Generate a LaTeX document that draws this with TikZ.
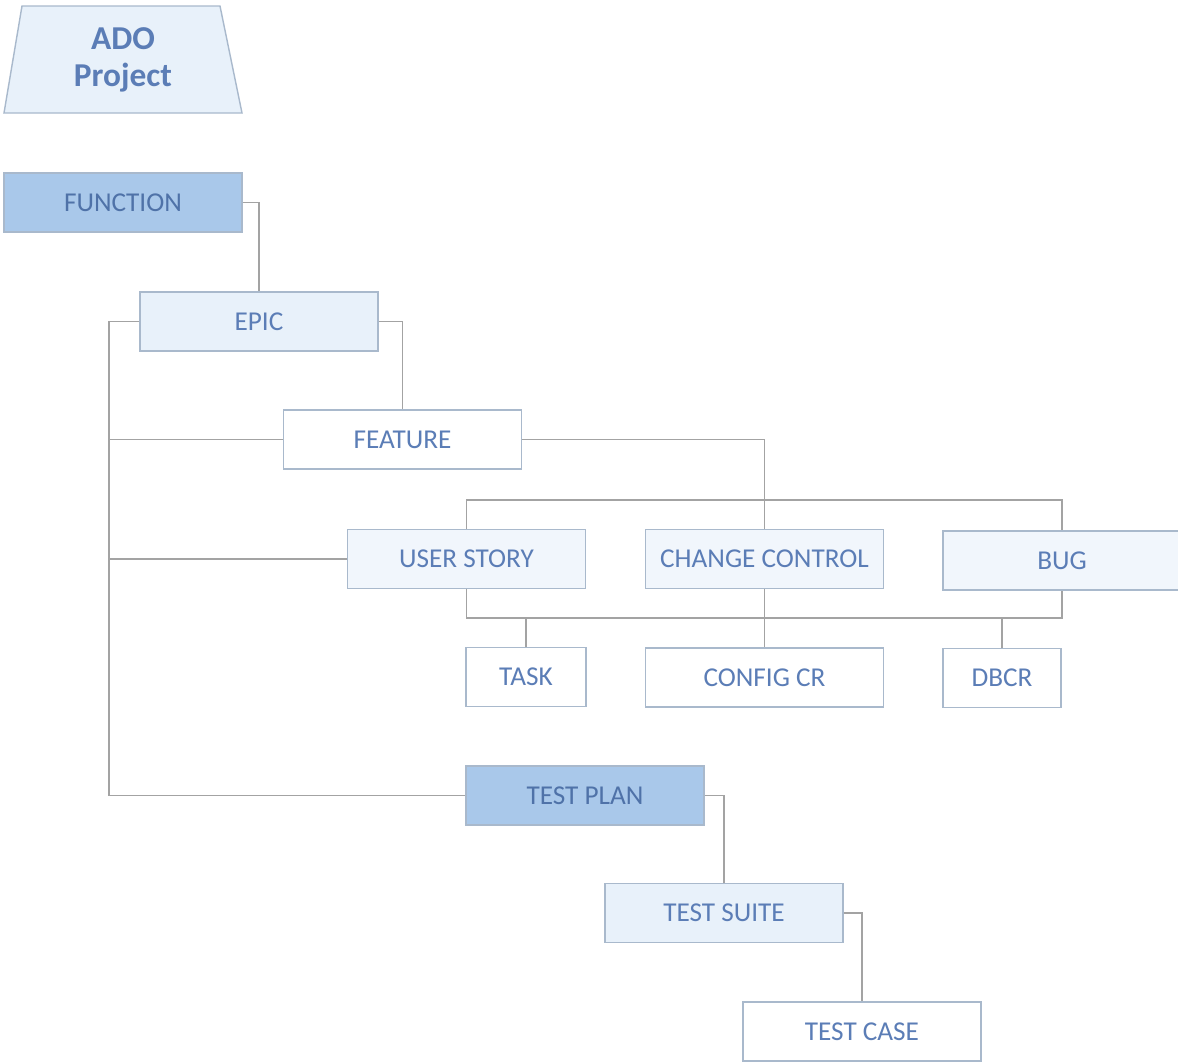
\documentclass[tikz,border=0pt]{standalone}
\usepackage{fontspec}
\setmainfont{Carlito}
\definecolor{txt}{HTML}{5B7DB6}
\definecolor{txtdark}{HTML}{4F72A8}
\definecolor{edge}{HTML}{A9B9CC}
\definecolor{wire}{HTML}{A3A3A3}
\definecolor{fillmid}{HTML}{A9C8EA}
\definecolor{filllight}{HTML}{E8F1FA}
\definecolor{fillpale}{HTML}{F1F6FC}
\begin{document}
\begin{tikzpicture}[x=0.02cm,y=-0.02cm,
  box/.style={draw=edge, line width=0.8pt, rectangle, minimum width=4.76cm, minimum height=1.18cm,
    inner sep=0pt, font=\fontsize{15.5}{18}\selectfont, text=txt},
  midbox/.style={box, fill=fillmid, text=txtdark},
  lightbox/.style={box, fill=filllight},
  palebox/.style={box, fill=fillpale},
  whitebox/.style={box, fill=white},
  wirestyle/.style={draw=wire, line width=0.8pt}]
\useasboundingbox (0,0) rectangle (1178,1063);
\fill[white] (0,0) rectangle (1178,1063);
% ADO Project trapezoid
\filldraw[fill=filllight, draw=edge, line width=0.8pt] (22,6) -- (220,6) -- (242,113) -- (4,113) -- cycle;
\node[font=\bfseries\fontsize{19}{21}\selectfont, text=txt, align=center] (ado) at (123,60) {ADO\\Project};
% nodes
\node[midbox] (func) at (123,202.5) {FUNCTION};
\node[lightbox] (epic) at (259,321.5) {EPIC};
\node[whitebox] (feat) at (402.5,439.5) {FEATURE};
\node[palebox] (us) at (466.5,559) {USER STORY};
\node[palebox] (cc) at (764.5,559) {CHANGE CONTROL};
\node[palebox] (bug) at (1062,560.5) {BUG};
\node[whitebox, minimum width=2.4cm] (task) at (526,677) {TASK};
\node[whitebox] (cfg) at (764.5,677.5) {CONFIG CR};
\node[whitebox, minimum width=2.36cm] (dbcr) at (1002,678) {DBCR};
\node[midbox] (tp) at (585,795.5) {TEST PLAN};
\node[lightbox] (ts) at (724,913) {TEST SUITE};
\node[whitebox] (tc) at (862,1031.5) {TEST CASE};
% bus coordinates
\coordinate (lbus) at (109,321.5);
\coordinate (tbus) at (0,500);
\coordinate (bbus) at (0,618);
% connectors
\draw[wirestyle] (func.east) -| (epic.north);
\draw[wirestyle] (epic.east) -| (feat.north);
\draw[wirestyle] (epic.west) -- (lbus) |- (tp.west);
\draw[wirestyle] (lbus |- feat.west) -- (feat.west);
\draw[wirestyle] (lbus |- us.west) -- (us.west);
\draw[wirestyle] (feat.east) -| (cc.north);
\draw[wirestyle] (us.north) -- (us.north |- tbus) -- (bug.north |- tbus) -- (bug.north);
\draw[wirestyle] (us.south) -- (us.south |- bbus) -- (bug.south |- bbus) -- (bug.south);
\draw[wirestyle] (cc.south) -- (cfg.north);
\draw[wirestyle] (task.north |- bbus) -- (task.north);
\draw[wirestyle] (dbcr.north |- bbus) -- (dbcr.north);
\draw[wirestyle] (tp.east) -| (ts.north);
\draw[wirestyle] (ts.east) -| (tc.north);
\end{tikzpicture}
\end{document}
